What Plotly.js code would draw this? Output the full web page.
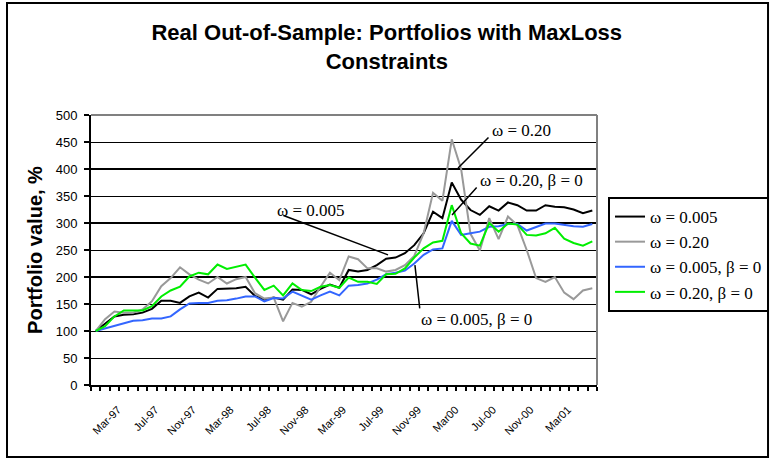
<!DOCTYPE html>
<html><head><meta charset="utf-8">
<script src="https://cdn.plot.ly/plotly-3.0.1.min.js"></script>
<style>html,body{margin:0;padding:0;background:#fff}#chart{width:772px;height:460px}</style>
</head><body><div id="chart"></div>
<script>
const months = ['Feb-97','Mar-97','Apr-97','May-97','Jun-97','Jul-97','Aug-97','Sep-97','Oct-97','Nov-97','Dec-97',
  'Jan-98','Feb-98','Mar-98','Apr-98','May-98','Jun-98','Jul-98','Aug-98','Sep-98','Oct-98','Nov-98','Dec-98',
  'Jan-99','Feb-99','Mar-99','Apr-99','May-99','Jun-99','Jul-99','Aug-99','Sep-99','Oct-99','Nov-99','Dec-99',
  'Jan-00','Feb-00','Mar-00','Apr-00','May-00','Jun-00','Jul-00','Aug-00','Sep-00','Oct-00','Nov-00','Dec-00',
  'Jan-01','Feb-01','Mar-01','Apr-01','May-01','Jun-01','Jul-01'];
const tickMonths = ['Mar-97','Jul-97','Nov-97','Mar-98','Jul-98','Nov-98','Mar-99','Jul-99','Nov-99','Mar-00','Jul-00','Nov-00','Mar-01'];
const tickLabels = ['Mar-97','Jul-97','Nov-97','Mar-98','Jul-98','Nov-98','Mar-99','Jul-99','Nov-99','Mar00','Jul-00','Nov-00','Mar01'];

const omega005 = [100,114,127,130,131,134,141,156,156,152,
  164,171,162,178,178,179,182,165,158,162,
  158,177,176,168,178,186,180,213,210,213,
  222,234,236,244,259,281,321,309,375,343,
  324,315,331,323,338,333,323,323,333,330,
  329,325,318,323];
const omega020 = [100,122,136,134,134,140,155,183,198,218,
  205,195,188,200,188,196,200,170,160,162,
  118,152,145,154,182,208,194,238,233,216,
  216,210,213,222,239,281,356,341,455,400,
  280,249,309,270,312,296,250,198,191,200,
  171,159,175,179];
const omega005beta0 = [100,105,109,114,119,120,123,123,127,140,
  151,152,152,156,157,160,164,164,155,161,
  160,173,165,158,166,173,166,184,185,188,
  195,205,208,212,225,241,251,253,304,278,
  281,284,293,294,298,298,286,293,299,299,
  296,294,293,298];
const omega020beta0 = [100,109,127,138,138,138,146,164,175,182,
  201,208,205,223,215,219,223,199,176,184,
  166,188,176,174,182,185,180,199,191,191,
  187,205,206,216,236,253,264,267,333,281,
  262,258,300,284,299,297,278,277,281,291,
  271,263,258,266];

const seriesNames = ['\u03c9 = 0.005','\u03c9 = 0.20','\u03c9 = 0.005, \u03b2 = 0','\u03c9 = 0.20, \u03b2 = 0'];
const seriesValues = [omega005, omega020, omega005beta0, omega020beta0];
const seriesColors = ['#000000','#999999','#3366ff','#00ee00'];

const xIdx = months.map((m, i) => i);
const tickIdx = tickMonths.map(m => months.indexOf(m));

const traces = seriesValues.map((vals, k) => ({
  type: 'scatter', mode: 'lines', x: xIdx, y: vals, name: seriesNames[k],
  line: {color: seriesColors[k], width: 2}
}));

const serif = 'Liberation Serif, Times New Roman, serif';
const sans = 'Liberation Sans, Arial, sans-serif';

function leader(x0, y0, x1, y1) {
  return {x: x1, y: y1, ax: x0, ay: y0, xref: 'x', yref: 'y', axref: 'x', ayref: 'y',
    text: '', showarrow: true, arrowhead: 0, arrowwidth: 1.5, arrowcolor: '#000', standoff: 0, startstandoff: 0};
}
function label(x, y, t) {
  return {x: x, y: y, xref: 'x', yref: 'y', text: t, showarrow: false,
    font: {family: serif, size: 17, color: '#000'}};
}

const layout = {
  width: 772, height: 460,
  margin: {l: 91, r: 175, t: 115, b: 75},
  paper_bgcolor: '#fff', plot_bgcolor: '#fff',
  title: {text: '<b>Real Out-of-Sample: Portfolios with MaxLoss<br>Constraints</b>',
    font: {family: sans, size: 22, color: '#000'},
    x: 0.501, xanchor: 'center', xref: 'container', y: 0.913, yanchor: 'top', yref: 'container'},
  showlegend: true,
  legend: {xref: 'container', yref: 'container', x: 0.7876, xanchor: 'left', y: 0.5717, yanchor: 'top',
    bordercolor: '#000', borderwidth: 2,
    bgcolor: '#fff', font: {family: serif, size: 17, color: '#000'}, tracegroupgap: 0},
  xaxis: {range: [-0.5, 53.5], showgrid: false, zeroline: false, showline: true, linecolor: '#000', linewidth: 2,
    tickmode: 'array', tickvals: tickIdx, ticktext: tickLabels, ticks: '', tickangle: -45,
    tickfont: {family: sans, size: 11, color: '#000'}, ticklabelshift: 13, ticklabelstandoff: 12,
    minor: {tickmode: 'linear', tick0: -0.5, dtick: 1, ticks: 'outside', ticklen: 4, tickwidth: 2, tickcolor: '#000', showgrid: false}},
  yaxis: {range: [0, 500], dtick: 50, tick0: 0, showgrid: true, gridcolor: '#000', gridwidth: 1, zeroline: false,
    showline: true, linecolor: '#000', linewidth: 2, ticks: 'outside', ticklen: 5, tickwidth: 1.5, tickcolor: '#000',
    tickfont: {family: sans, size: 13, color: '#000'}, ticklabelstandoff: 4,
    title: {text: '<b>Portfolio value, %</b>', font: {family: sans, size: 20, color: '#000'}, standoff: 8}},
  shapes: [
    {type: 'line', xref: 'paper', yref: 'y', x0: 0, x1: 1, y0: 200, y1: 200, line: {color: '#000', width: 2}, layer: 'below'},
    {type: 'line', xref: 'paper', yref: 'y', x0: 0, x1: 1, y0: 300, y1: 300, line: {color: '#000', width: 2}, layer: 'below'},
    {type: 'line', xref: 'paper', yref: 'y', x0: 0, x1: 1, y0: 400, y1: 400, line: {color: '#000', width: 2}, layer: 'below'},
    {type: 'line', xref: 'paper', yref: 'paper', x0: 0, x1: 1, y0: 1, y1: 1, line: {color: '#808080', width: 2}},
    {type: 'line', xref: 'paper', yref: 'paper', x0: 1, x1: 1, y0: 0, y1: 1, line: {color: '#808080', width: 2}},
    {type: 'rect', xref: 'paper', yref: 'paper', x0: -0.166, x1: 1.338, y0: -0.2667, y1: 1.4148, line: {color: '#000', width: 2}}
  ],
  annotations: [
    leader(42.08, 461, 38.67, 402),
    leader(40.8, 368.5, 38.03, 315),
    leader(19.88, 315, 31.2, 241),
    leader(34.6, 139, 34.07, 222),
    label(45.44, 472, seriesNames[1]),
    label(46.56, 377.8, seriesNames[3]),
    label(22.98, 324, seriesNames[0]),
    label(40.59, 120.4, seriesNames[2])
  ]
};

Plotly.newPlot('chart', traces, layout, {displayModeBar: false, responsive: false});
</script>
</body></html>
